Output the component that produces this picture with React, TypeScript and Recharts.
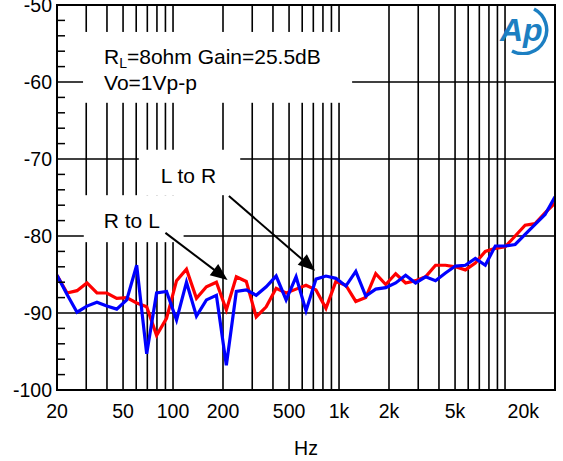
import React from 'react'
import { LineChart, Line, XAxis, YAxis, ReferenceLine, ReferenceArea } from 'recharts'

// 1/5-octave sweep points, 20 Hz .. 20 kHz
const FREQS = [
  20, 23, 26.4, 30.3, 34.8, 39.9, 45.8, 52.6, 60.4, 69.4,
  79.6, 91.4, 105, 120.5, 138.4, 158.9, 182.5, 209.5, 240.6, 276.2,
  317, 364.1, 418, 480, 551.1, 632.5, 726.4, 834, 957.6, 1099,
  1262, 1449, 1664, 1911, 2194, 2519, 2892, 3321, 3813, 4378,
  5024, 5769, 6624, 7606, 8734, 10024, 11510, 13216, 15175, 17424,
  20000,
]

// crosstalk, dB
const R_TO_L = [
  -85.1, -87.4, -87.1, -86.1, -87.4, -87.4, -88.1, -88.0, -88.7, -89.2,
  -92.9, -90.7, -85.8, -84.3, -88.1, -86.6, -86.0, -89.6, -85.3, -85.9,
  -90.5, -89.2, -86.8, -87.4, -86.9, -86.4, -87.0, -89.4, -85.9, -86.4,
  -88.5, -88.0, -84.9, -86.3, -84.9, -86.1, -85.8, -85.3, -83.8, -83.8,
  -84.0, -84.4, -83.5, -82.0, -81.6, -81.4, -80.0, -78.6, -78.4, -77.0,
  -75.7,
]
const L_TO_R = [
  -85.1, -87.6, -89.9, -89.1, -88.6, -89.1, -89.5, -88.3, -83.8, -95.3,
  -87.4, -87.2, -90.9, -86.0, -90.4, -88.3, -87.7, -96.8, -87.2, -87.0,
  -87.7, -86.6, -85.2, -88.3, -85.3, -89.7, -85.6, -85.2, -85.5, -86.5,
  -84.6, -87.8, -86.9, -86.7, -86.1, -85.1, -86.1, -85.3, -85.8, -84.8,
  -83.9, -83.8, -82.9, -83.8, -81.3, -81.3, -81.1, -79.8, -78.5, -77.2,
  -74.9,
]

const X_TICKS = [20, 50, 100, 200, 500, 1000, 2000, 5000, 20000]
const X_GRID = [
  30, 40, 50, 60, 70, 80, 90, 100,
  200, 300, 400, 500, 600, 700, 800, 900, 1000,
  2000, 3000, 4000, 5000, 6000, 7000, 8000, 9000, 10000,
]
const Y_TICKS = [
  -100, -98, -96, -94, -92, -90, -88, -86, -84, -82, -80, -78, -76,
  -74, -72, -70, -68, -66, -64, -62, -60, -58, -56, -54, -52, -50,
]
const Y_GRID = [-60, -70, -80, -90]

const data = FREQS.map((f, i) => ({ f, rl: R_TO_L[i], lr: L_TO_R[i] }))

const FONT = '"Liberation Sans", Arial, sans-serif'

const fmtHz = (v: number) => (v >= 1000 ? `${v / 1000}k` : `${v}`)

function XTick({ x, y, payload }: any) {
  const last = payload.value === 20000
  return (
    <text x={last ? x - 4 : x} y={y + 28} textAnchor={last ? 'end' : 'middle'} fontSize={19.5} fill="#000">
      {fmtHz(payload.value)}
    </text>
  )
}

function YTick({ x, y, payload }: any) {
  if (payload.value % 10 !== 0) {
    return <line x1={x + 5} x2={x + 13} y1={y} y2={y} stroke="#000" strokeWidth={1.5} />
  }
  return (
    <text x={x} y={y + 7} textAnchor="end" fontSize={19.5} fill="#000">
      {payload.value}
    </text>
  )
}

function arrow(props: any) {
  const { x1, y1, x2, y2 } = props
  const len = Math.hypot(x2 - x1, y2 - y1)
  const ux = (x2 - x1) / len
  const uy = (y2 - y1) / len
  const hl = 17
  const hw = 7
  const bx = x2 - ux * hl
  const by = y2 - uy * hl
  return (
    <g>
      <line x1={x1} y1={y1} x2={x2 - ux * 10} y2={y2 - uy * 10} stroke="#000" strokeWidth={2} />
      <polygon
        points={`${x2},${y2} ${bx - uy * hw},${by + ux * hw} ${bx + uy * hw},${by - ux * hw}`}
        fill="#000"
      />
    </g>
  )
}

function box(lines: React.ReactNode[], dx: number, dy: number) {
  return (props: any) => (
    <g>
      <rect x={props.x} y={props.y} width={props.width} height={props.height} fill="#fff" />
      {lines.map((t, i) => (
        <text key={i} x={props.x + dx} y={props.y + dy + i * 26} fontSize={21} fill="#000">
          {t}
        </text>
      ))}
    </g>
  )
}

function Logo() {
  return (
    <svg width={60} height={50} style={{ position: 'absolute', left: 496, top: 5 }}>
      <path d="M 38 4 A 21 21 0 0 1 16 46" fill="none" stroke="#1c7fc2" strokeWidth={3.5} />
      <text x={4} y={36} fontSize={32} fontStyle="italic" fontWeight="bold" fill="#1c7fc2" fontFamily={FONT}>
        Ap
      </text>
    </svg>
  )
}

export default function App() {
  return (
    <div style={{ position: 'absolute', left: 0, top: 0, width: 563, height: 461, background: '#fff', fontFamily: FONT }}>
      <LineChart width={563} height={461} data={data} margin={{ top: 5, right: 8, bottom: 0, left: 0 }}>
        <XAxis
          dataKey="f"
          type="number"
          scale="log"
          domain={[20, 20000]}
          allowDataOverflow
          ticks={X_TICKS}
          tick={<XTick />}
          tickSize={0}
          tickMargin={0}
          axisLine={false}
          tickLine={false}
          height={71}
          label={{ value: 'Hz', position: 'insideBottom', offset: 6, fontSize: 19.5, fill: '#000' }}
        />
        <YAxis
          type="number"
          domain={[-100, -50]}
          ticks={Y_TICKS}
          interval={0}
          tick={<YTick />}
          tickSize={0}
          tickMargin={5}
          axisLine={false}
          tickLine={false}
          width={57}
        />
        {X_GRID.map(v => (
          <ReferenceLine key={`vx${v}`} x={v} stroke="#000" strokeWidth={1.6} zIndex={-90} />
        ))}
        {Y_GRID.map(v => (
          <ReferenceLine key={`hy${v}`} y={v} stroke="#000" strokeWidth={1.6} zIndex={-90} />
        ))}
        <ReferenceArea
          x1={28.7} x2={1199} y1={-62.7} y2={-53.5}
          zIndex={-80}
          shape={box([
            <>
              <tspan>R</tspan>
              <tspan fontSize={14} dy={4}>L</tspan>
              <tspan dy={-4}>=8ohm Gain=25.5dB</tspan>
            </>,
            'Vo=1Vp-p',
          ], 21, 32)}
        />
        <ReferenceArea x1={62.2} x2={254} y1={-74.7} y2={-68.8} zIndex={-80} shape={box(['L to R'], 22, 33)} />
        <ReferenceArea x1={29} x2={115.8} y1={-80.8} y2={-74.7} zIndex={-80} shape={box(['R to L'], 20, 33)} />
        <Line dataKey="rl" name="R to L" stroke="#ff0000" strokeWidth={3.2} dot={false} isAnimationActive={false} />
        <Line dataKey="lr" name="L to R" stroke="#0000ff" strokeWidth={3.2} dot={false} isAnimationActive={false} />
        <ReferenceLine
          segment={[{ x: 217, y: -74.8 }, { x: 718, y: -84.5 }]}
          shape={arrow}
          zIndex={1500}
        />
        <ReferenceLine
          segment={[{ x: 90, y: -79.6 }, { x: 213, y: -85.7 }]}
          shape={arrow}
          zIndex={1500}
        />
        <ReferenceArea
          x1={20} x2={20000} y1={-100} y2={-50}
          fill="none" fillOpacity={0} stroke="#000" strokeWidth={2}
          zIndex={1600}
        />
      </LineChart>
      <Logo />
    </div>
  )
}
